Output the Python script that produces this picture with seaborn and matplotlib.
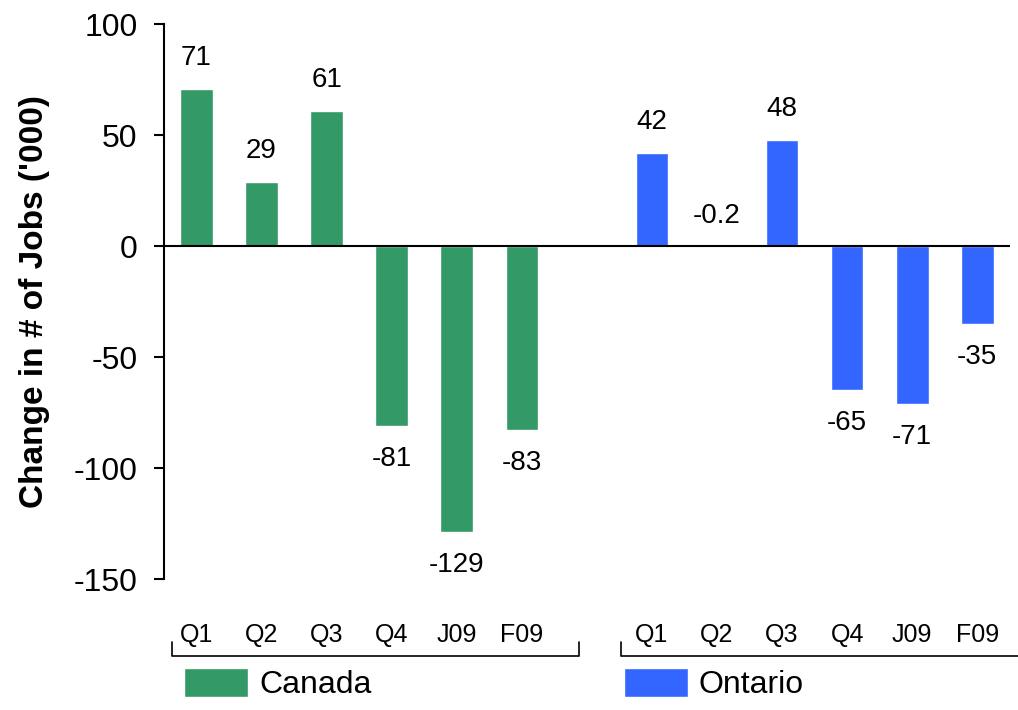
import pandas as pd
import matplotlib.pyplot as plt
import seaborn as sns

# --- DATA ---
periods = ["Q1", "Q2", "Q3", "Q4", "J09", "F09"]
canada = [71, 29, 61, -81, -129, -83]
ontario = [42, -0.2, 48, -65, -71, -35]
canada_labels = ["71", "29", "61", "-81", "-129", "-83"]
ontario_labels = ["42", "-0.2", "48", "-65", "-71", "-35"]

green = "#339966"
blue = "#3366FF"

# --- TABELL ---
rows = []
for i, p in enumerate(periods):
    rows.append({"pos": i, "period": p, "region": "Canada", "value": canada[i], "label": canada_labels[i]})
for i, p in enumerate(periods):
    rows.append({"pos": i + 7, "period": p, "region": "Ontario", "value": ontario[i], "label": ontario_labels[i]})
df = pd.DataFrame(rows)

sns.set_style("ticks")
plt.rcParams["font.family"] = ["Liberation Sans", "DejaVu Sans"]
plt.rcParams["axes.unicode_minus"] = False
for k in ["text.color", "axes.labelcolor", "xtick.color", "ytick.color", "axes.edgecolor"]:
    plt.rcParams[k] = "black"

fig = plt.figure(figsize=(10.18, 7.10), dpi=100)
ax = fig.add_axes([0.161, 0.1845, 0.831, 0.7815])

sns.barplot(data=df, x="pos", y="value", hue="region", native_scale=True,
            dodge=False, width=0.5, palette={"Canada": green, "Ontario": blue},
            saturation=1, ax=ax)

ax.set_xlim(-0.5, 12.5)
ax.set_ylim(-150, 100)
ax.set_yticks([-150, -100, -50, 0, 50, 100])
ax.tick_params(axis="y", labelsize=23, length=7, width=1.5, direction="out", pad=12)
ax.axhline(0, color="black", lw=1.5, zorder=3)

for s in ["top", "right", "bottom"]:
    ax.spines[s].set_visible(False)
ax.spines["left"].set_linewidth(1.5)

ax.set_xticks(df["pos"], df["period"])
ax.tick_params(axis="x", length=0, pad=32, labelsize=18)
ax.set_xlabel("")
ax.set_ylabel("Change in # of Jobs ('000)", fontsize=24, fontweight="bold", labelpad=17)

# --- VERDIER ---
for _, r in df.iterrows():
    if r["value"] > -1:
        ax.text(r["pos"], r["value"] + 8, r["label"], ha="center", va="bottom", fontsize=20)
    else:
        ax.text(r["pos"], r["value"] - 9, r["label"], ha="center", va="top", fontsize=20)

# --- KLAMMER ---
tr = ax.get_xaxis_transform()
for x0, x1 in [(-0.37, 5.88), (6.52, 13.2)]:
    ax.plot([x0, x0, x1, x1], [-0.114, -0.139, -0.139, -0.114], transform=tr,
            color="black", lw=1.2, clip_on=False)

# --- LEGENDE ---
sns.move_legend(ax, "upper left", bbox_to_anchor=(184 / 1018, 1 - 668 / 710),
                bbox_transform=fig.transFigure, ncol=2, frameon=False, title=None,
                fontsize=23, handlelength=2.0, handleheight=1.0, handletextpad=0.35,
                columnspacing=7.9, borderpad=0, borderaxespad=0)

plt.savefig("out.png", dpi=100)
